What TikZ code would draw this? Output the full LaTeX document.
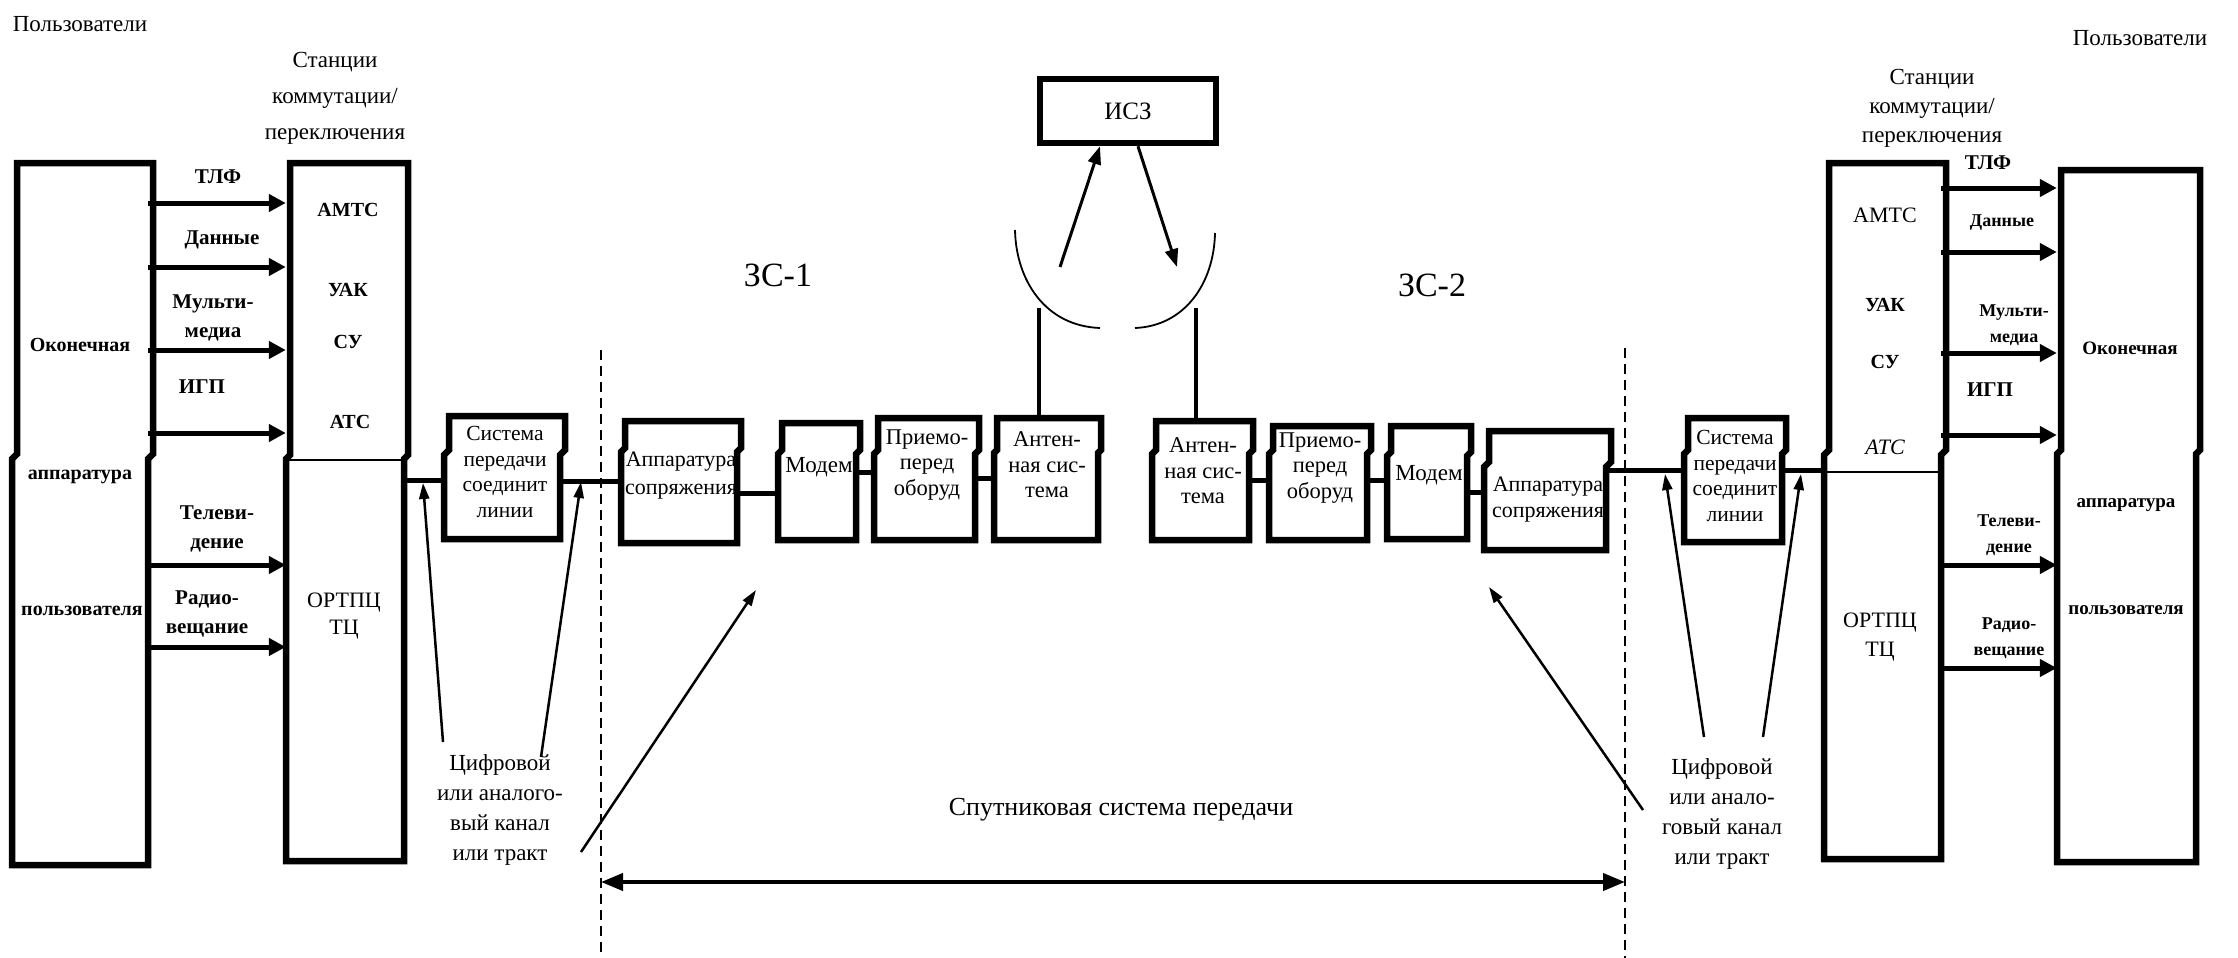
\documentclass[tikz,border=0pt]{standalone}
\usepackage{fontspec}
\setmainfont{Liberation Serif}
\usetikzlibrary{arrows.meta,fit}
\newcommand{\jogbox}[7]{%
  \draw[boxline] (#2,#3) -- (#4,#3) -- (#4,#6) -- ({#4-#7},{#6+#7}) -- ({#4-#7},#5) -- ({#2-#7},#5) -- ({#2-#7},{#6+#7}) -- (#2,#6) -- cycle;
  \coordinate (#1-a) at ({#2-#7},#3);
  \coordinate (#1-b) at ({#4-#7},#5);
  \node[fit=(#1-a)(#1-b), inner sep=0pt] (#1) {};
}
\begin{document}
\begin{tikzpicture}[x=1pt,y=-1pt,
  every node/.style={inner sep=0pt, align=center},
  boxline/.style={line width=6.5pt, line join=miter},
  conn/.style={line width=5pt},
  harr/.style={line width=5pt, -{Triangle[length=17pt,width=17pt]}},
  darr/.style={line width=3pt, -{Triangle[length=18pt,width=13pt]}},
  tarr/.style={line width=2.5pt, -{Triangle[length=16pt,width=10pt]}},
  dbl/.style={line width=4pt, {Triangle[length=22pt,width=17pt]}-{Triangle[length=22pt,width=17pt]}},
  dashline/.style={line width=2.5pt, dash pattern=on 10pt off 6pt},
  feed/.style={line width=4pt},
  dish/.style={line width=1.8pt},
  hdr/.style={font=\fontsize{23}{36}\selectfont},
  hdrr/.style={font=\fontsize{23}{29}\selectfont},
  lbl/.style={font=\bfseries\fontsize{21}{29}\selectfont},
  lbls/.style={font=\bfseries\fontsize{18}{26}\selectfont},
  stl/.style={font=\bfseries\fontsize{20}{25}\selectfont},
  stn/.style={font=\fontsize{22}{27}\selectfont},
  usr/.style={font=\bfseries\fontsize{20}{24}\selectfont},
  bx/.style={font=\fontsize{22.5}{25.5}\selectfont},
  big/.style={font=\fontsize{34}{40}\selectfont},
  note/.style={font=\fontsize{23}{30}\selectfont},
]
\useasboundingbox (0,0) rectangle (2238,958);
\fill[white] (0,0) rectangle (2238,958);

% ---------- boxes ----------
\jogbox{LU}{17}{163}{153}{865}{454}{5}
\jogbox{LS}{290}{163}{408}{861}{455}{4}
\jogbox{LSYS}{449}{416}{565}{539}{450}{5}
\jogbox{LAP}{625}{421}{741}{543}{448}{4}
\jogbox{LMOD}{782}{423}{860}{540}{450}{4}
\jogbox{LPR}{878}{418}{979}{540}{450}{4}
\jogbox{LAN}{997}{418}{1101}{540}{450}{3}
\jogbox{RAN}{1156}{421}{1253}{540}{450}{4}
\jogbox{RPR}{1273}{426}{1371}{540}{450}{4}
\jogbox{RMOD}{1391}{426}{1471}{539}{452}{4}
\jogbox{RAP}{1489}{431}{1611}{550}{462}{5}
\jogbox{RSYS}{1688}{418}{1786}{542}{450}{4}
\jogbox{RS}{1829}{163}{1946}{859}{450}{5}
\jogbox{RU}{2061}{170}{2200}{862}{450}{4}

\node[draw, line width=6.5pt, minimum width=176pt, minimum height=64pt,
      font=\fontsize{25}{30}\selectfont] (isz) at (1128,111) {ИСЗ};

% thin lines inside station boxes
\draw[line width=1.5pt] (LS.west |- 0,460) -- (LS.east |- 0,460);
\draw[line width=1.5pt] (RS.west |- 0,472) -- (RS.east |- 0,472);

% ---------- headers ----------
\node[hdr] (uL) at (80,24) {Пользователи};
\node[hdr] (stL) at (335,98) {Станции\\коммутации/\\переключения};
\node[hdr] (uR) at (2140,38) {Пользователи};
\node[hdrr] (stR) at (1932,108) {Станции\\коммутации/\\переключения};

% ---------- left user / station ----------
\node[usr] (okL) at (80,345) {Оконечная};
\node[usr] (apL) at (80,477) {аппаратура};
\node[usr] (polL) at (82,611) {пользователя};

\node[lbl] (tlfL) at (218,177) {ТЛФ};
\node[lbl] (danL) at (222,240) {Данные};
\node[lbl] (multL) at (213,318) {Мульти-\\медиа};
\node[lbl] (igpL) at (202,387) {ИГП};
\node[lbl] (tvL) at (217,529) {Телеви-\\дение};
\node[lbl] (radL) at (207,614) {Радио-\\вещание};

\node[stl] (amtsL) at (348,210) {АМТС};
\node[stl] (uakL) at (348,290) {УАК};
\node[stl] (suL) at (348,342) {СУ};
\node[stl] (atsL) at (350,422) {АТС};
\node[stn] (ortL) at (344,616) {ОРТПЦ\\ТЦ};

\foreach \yy in {203,267,350,433,565,647}
  \draw[harr] (LU.east |- 0,\yy) -- (LS.west |- 0,\yy);

% ---------- right user / station ----------
\node[font=\bfseries\fontsize{19}{23}\selectfont] (okR) at (2130,348) {Оконечная};
\node[font=\bfseries\fontsize{19}{23}\selectfont] (apR) at (2126,505) {аппаратура};
\node[font=\bfseries\fontsize{19}{23}\selectfont] (polR) at (2126,610) {пользователя};

\node[lbl] (tlfR) at (1988,163) {ТЛФ};
\node[lbls] (danR) at (2002,223) {Данные};
\node[lbls] (multR) at (2014,325) {Мульти-\\медиа};
\node[lbl] (igpR) at (1990,390) {ИГП};
\node[lbls] (tvR) at (2009,535) {Телеви-\\дение};
\node[lbls] (radR) at (2009,638) {Радио-\\вещание};

\node[stn] (amtsR) at (1885,215) {АМТС};
\node[stl] (uakR) at (1885,305) {УАК};
\node[stl] (suR) at (1885,362) {СУ};
\node[font=\itshape\fontsize{22}{27}\selectfont] (atsR) at (1885,447) {АТС};
\node[font=\fontsize{22}{29}\selectfont] (ortR) at (1880,637) {ОРТПЦ\\ТЦ};

\foreach \yy in {188,252,353,435,565,668}
  \draw[harr] (RS.east |- 0,\yy) -- (RU.west |- 0,\yy);

% ---------- chain texts ----------
\node[bx, font=\fontsize{21.5}{25.5}\selectfont] (tLSYS) at (505,472) {Система\\передачи\\соединит\\линии};
\node[bx, font=\fontsize{22}{28}\selectfont] (tLAP) at (681,476) {Аппаратура\\сопряжения};
\node[bx, font=\fontsize{23}{26}\selectfont] (tLMOD) at (819,467) {Модем};
\node[bx] (tLPR) at (927,465) {Приемо-\\перед\\оборуд};
\node[bx] (tLAN) at (1047,465) {Антен-\\ная сис-\\тема};
\node[bx] (tRAN) at (1203,471) {Антен-\\ная сис-\\тема};
\node[bx] (tRPR) at (1320,468) {Приемо-\\перед\\оборуд};
\node[bx, font=\fontsize{23}{26}\selectfont] (tRMOD) at (1429,475) {Модем};
\node[bx, font=\fontsize{22}{26}\selectfont] (tRAP) at (1548,500) {Аппаратура\\сопряжения};
\node[bx, font=\fontsize{21.5}{25.5}\selectfont] (tRSYS) at (1735,476) {Система\\передачи\\соединит\\линии};

% ---------- chain connectors ----------
\draw[conn] (LS.east |- 0,480) -- (LSYS.west |- 0,480);
\draw[conn] (LSYS.east |- 0,481) -- (LAP.west |- 0,481);
\draw[conn] (LAP.east |- 0,493) -- (LMOD.west |- 0,493);
\draw[conn] (LMOD.east |- 0,472) -- (LPR.west |- 0,472);
\draw[conn] (LPR.east |- 0,478) -- (LAN.west |- 0,478);
\draw[conn] (RAN.east |- 0,480) -- (RPR.west |- 0,480);
\draw[conn] (RPR.east |- 0,480) -- (RMOD.west |- 0,480);
\draw[conn] (RMOD.east |- 0,492) -- (RAP.west |- 0,492);
\draw[conn] (RAP.east |- 0,470) -- (RSYS.west |- 0,470);
\draw[conn] (RSYS.east |- 0,470) -- (RS.west |- 0,470);

% ---------- antenna & satellite ----------
\coordinate (fL) at (1039,308);
\coordinate (fR) at (1196,308);
\draw[feed] (LAN.north -| fL) -- (fL);
\draw[feed] (RAN.north -| fR) -- (fR);
\draw[dish] (1015,230) .. controls (1016,280) and (1045,326) .. (1100,328);
\draw[dish] (1215,233) .. controls (1214,283) and (1185,326) .. (1135,328);
\coordinate (upS) at (1060,267);
\coordinate (dnE) at (1177,267);
\draw[darr] (upS) -- (isz.south -| 1100,0);
\draw[darr] (isz.south -| 1138,0) -- (dnE);

% ---------- station labels ----------
\node[big] (zs1) at (778,275) {ЗС-1};
\node[big] (zs2) at (1432,285) {ЗС-2};

% ---------- dashed borders and span ----------
\coordinate (dLt) at (601,350);
\coordinate (dLb) at (601,958);
\coordinate (dRt) at (1625,348);
\coordinate (dRb) at (1625,958);
\draw[dashline] (dLt) -- (dLb);
\draw[dashline] (dRt) -- (dRb);
\coordinate (spL) at (601,882);
\coordinate (spR) at (1625,882);
\draw[dbl] (spL) -- (spR);
\node[font=\fontsize{26}{30}\selectfont] (sps) at (1121,810) {Спутниковая система передачи};

% ---------- channel notes ----------
\node[note] (cifL) at (500,810) {Цифровой\\или аналого-\\вый канал\\или тракт};
\node[note] (cifR) at (1722,814) {Цифровой\\или анало-\\говый канал\\или тракт};

\coordinate (a1s) at (443,742); \coordinate (a1e) at (423,483);
\coordinate (a2s) at (541,757); \coordinate (a2e) at (581,482);
\coordinate (a3s) at (581,852); \coordinate (a3e) at (756,590);
\coordinate (b1s) at (1704,737); \coordinate (b1e) at (1665,474);
\coordinate (b2s) at (1763,737); \coordinate (b2e) at (1801,474);
\coordinate (b3s) at (1643,810); \coordinate (b3e) at (1489,587);
\draw[tarr] (a1s) -- (a1e);
\draw[tarr] (a2s) -- (a2e);
\draw[tarr] (a3s) -- (a3e);
\draw[tarr] (b1s) -- (b1e);
\draw[tarr] (b2s) -- (b2e);
\draw[tarr] (b3s) -- (b3e);
\end{tikzpicture}
\end{document}
